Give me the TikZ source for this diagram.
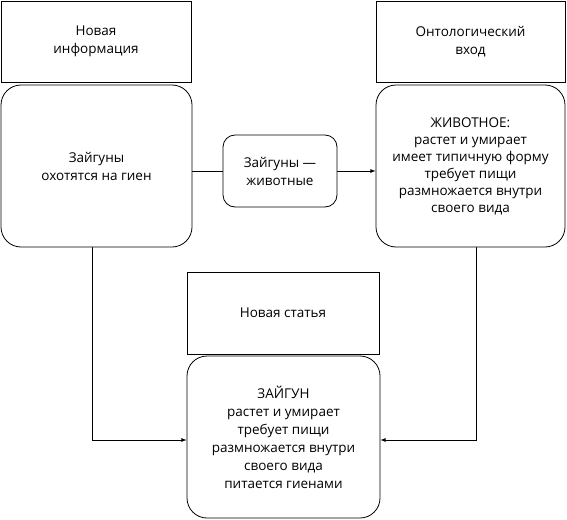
\documentclass[tikz,border=0pt]{standalone}
\usepackage{fontspec}
\setmainfont{Open Sans}
\usetikzlibrary{arrows}
\pgfdeclarelayer{nodelayer}
\pgfdeclarelayer{edgelayer}
\pgfsetlayers{edgelayer,nodelayer,main}
\tikzstyle{head box}=[fill=white, draw=black, shape=rectangle, line width=0.8pt, align=center, font=\fontsize{13.5}{18.5}\selectfont]
\tikzstyle{round box}=[fill=white, draw=black, shape=rectangle, rounded corners=20pt, line width=0.8pt, align=center, font=\fontsize{13.5}{18}\selectfont]
\tikzstyle{link box}=[round box, rounded corners=12pt, minimum width=114pt, minimum height=72pt]
\tikzstyle{link edge}=[draw=black, line width=0.8pt, -latex]

\begin{document}
\begin{tikzpicture}[x=1pt, y=-1pt]
	\useasboundingbox (0, 0) rectangle (567, 519);
	\begin{pgfonlayer}{nodelayer}
		\node [style=head box, minimum width=190pt, minimum height=81pt] (0) at (96, 41.5) {Новая\\информация};
		\node [style=round box, minimum width=191pt, minimum height=162pt] (1) at (96.5, 166) {Зайгуны\\охотятся на гиен};
		\node [style=link box] (2) at (280, 171) {Зайгуны —\\животные};
		\node [style=head box, minimum width=189pt, minimum height=81pt] (3) at (470.5, 41.5) {Онтологический\\вход};
		\node [style=round box, minimum width=189pt, minimum height=162pt, font=\fontsize{13.5}{17}\selectfont] (4) at (470.5, 166) {ЖИВОТНОЕ:\\растет и умирает\\имеет типичную форму\\требует пищи\\размножается внутри\\своего вида};
		\node [style=head box, minimum width=192pt, minimum height=82pt] (5) at (283, 313) {Новая статья};
		\node [style=round box, minimum width=193pt, minimum height=162pt] (6) at (283.5, 437) {ЗАЙГУН\\растет и умирает\\требует пищи\\размножается внутри\\своего вида\\питается гиенами};
	\end{pgfonlayer}
	\begin{pgfonlayer}{edgelayer}
		\draw [line width=0.8pt] (2) to (1.east |- 2);
		\draw [style=link edge] (2) to (4.west |- 2);
		\draw [style=link edge] ([xshift=-4pt]1.south) |- ([yshift=-3pt]6.west);
		\draw [style=link edge] ([xshift=5.5pt]4.south) |- ([yshift=-3pt]6.east);
	\end{pgfonlayer}
\end{tikzpicture}
\end{document}
